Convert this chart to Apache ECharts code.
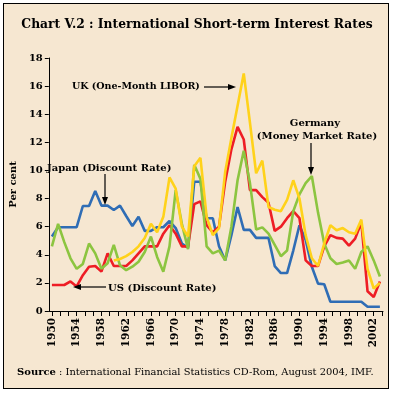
<!DOCTYPE html>
<html>
<head>
<meta charset="utf-8">
<script src="https://cdn.jsdelivr.net/npm/echarts@6/dist/echarts.min.js"></script>
<style>
html,body{margin:0;padding:0;background:#ffffff;}
#box{position:absolute;left:3px;top:3px;width:384px;height:384px;border:1.5px solid #000;background:#F6E7D1;}
#chart{position:absolute;left:0;top:0;width:394px;height:394px;}
</style>
</head>
<body>
<div id="box"></div>
<div id="chart"></div>
<script>
var years = [];
for (var y = 1950; y <= 2003; y++) years.push(y);

var japan = [5.3,5.96,5.96,5.96,5.96,7.47,7.47,8.54,7.5,7.5,
             7.19,7.5,6.76,6.05,6.7,5.7,5.7,5.96,5.96,6.4,
             5.9,4.8,4.5,9.2,9.2,6.6,6.6,4.6,3.6,5.4,
             7.4,5.77,5.77,5.2,5.2,5.2,3.2,2.7,2.7,4.3,
             6.1,5.05,3.15,1.95,1.9,0.66,0.66,0.66,0.66,0.66,
             0.66,0.3,0.3,0.3];
var us = [1.85,1.85,1.85,2.1,1.75,2.55,3.15,3.2,2.8,4.1,
          3.2,3.2,3.2,3.6,4.1,4.6,4.6,4.6,5.5,6.1,
          5.5,4.6,4.6,7.6,7.8,6.1,5.6,6.0,9.2,11.5,
          13.1,12.2,8.6,8.6,8.1,7.7,5.7,6.0,6.6,7.1,
          6.6,3.6,3.2,3.2,4.6,5.4,5.2,5.15,4.65,5.15,
          6.3,1.4,1.0,2.1];
var germany = [4.6,6.2,4.9,3.75,3.0,3.35,4.8,4.1,3.0,3.4,
               4.7,3.25,2.9,3.15,3.5,4.2,5.3,3.85,2.8,4.6,
               8.6,6.2,4.4,10.4,9.4,4.6,4.1,4.3,3.6,6.0,
               9.3,11.4,9.1,5.8,5.95,5.5,4.7,3.9,4.3,7.1,
               8.3,9.1,9.6,7.0,4.8,3.75,3.35,3.45,3.6,3.0,
               4.2,4.6,3.6,2.45];
var uk = [null,null,null,null,null,null,null,null,null,null,
          3.6,3.7,3.9,4.2,4.6,5.2,6.2,5.6,6.7,9.5,
          8.7,6.0,5.3,10.3,10.9,6.7,5.4,5.9,9.9,12.3,
          14.6,16.9,13.4,9.8,10.7,7.4,7.2,7.1,7.9,9.3,
          8.0,5.4,3.75,3.2,4.8,6.1,5.75,5.9,5.6,5.5,
          6.5,3.0,1.6,2.0];

var labelYears = [1950,1954,1958,1962,1966,1970,1974,1978,1982,1986,1990,1994,1998,2002];
var yTicks = [0,2,4,6,8,10,12,14,16,18];

function pairs(vals){
  var out = [];
  for (var i = 0; i < years.length; i++) {
    if (vals[i] !== null) out.push([years[i], vals[i]]);
  }
  return out;
}
var tickVals = [];
for (var k = 0; k <= 40; k++) tickVals.push(1950 + k * 4 / 3);

var F = 'DejaVu Serif';
var chart = echarts.init(document.getElementById('chart'));

function arrowLine(x1,y1,x2,y2){
  return {type:'line', shape:{x1:x1,y1:y1,x2:x2,y2:y2}, style:{stroke:'#000', lineWidth:1.2}, z:10};
}
function head(pts){
  return {type:'polygon', shape:{points:pts}, style:{fill:'#000'}, z:10};
}
function txt(x,y,t,align,size){
  return {type:'text', x:x, y:y, style:{text:t, fill:'#000', font:'bold '+(size||10)+'px "'+F+'"', align:align||'left', verticalAlign:'middle'}, z:10};
}

chart.setOption({
  backgroundColor: 'transparent',
  animation: false,
  title: {
    text: 'Chart V.2 : International Short-term Interest Rates',
    left: 'center', top: 14,
    textStyle: {fontFamily: F, fontWeight: 'bold', fontSize: 12.3, color: '#000'}
  },
  grid: {left: 40, right: 11, top: 58, bottom: 83},
  xAxis: {
    type: 'value', min: 1949.5, max: 2003.5,
    splitLine: {show: false},
    axisLine: {show: true, onZero: false, lineStyle: {color: '#000', width: 1}},
    axisTick: {show: true, length: 5, customValues: tickVals, lineStyle: {color: '#000'}},
    axisLabel: {customValues: labelYears, rotate: 90, margin: 7, color: '#000',
                fontFamily: F, fontWeight: 'bold', fontSize: 10.5,
                formatter: function(v){ return String(Math.round(v)); }}
  },
  yAxis: {
    type: 'value', min: 0, max: 18, interval: 2,
    name: 'Per cent', nameLocation: 'middle', nameGap: 26, nameRotate: 90,
    nameTextStyle: {fontFamily: F, fontWeight: 'bold', fontSize: 10, color: '#000'},
    splitLine: {show: false},
    axisLine: {show: true, lineStyle: {color: '#000', width: 1}},
    axisTick: {show: true, length: 4, lineStyle: {color: '#000'}},
    axisLabel: {margin: 6, color: '#000', fontFamily: F, fontWeight: 'bold', fontSize: 10,
                customValues: yTicks}
  },
  series: [
    {name: 'Japan', type: 'line', data: pairs(japan), symbol: 'none', lineStyle: {color: '#2F6DB5', width: 2.6}, z: 2},
    {name: 'US', type: 'line', data: pairs(us), symbol: 'none', lineStyle: {color: '#EE1D25', width: 2.6}, z: 3},
    {name: 'Germany', type: 'line', data: pairs(germany), symbol: 'none', lineStyle: {color: '#8CC540', width: 2.6}, z: 4},
    {name: 'UK', type: 'line', data: pairs(uk), symbol: 'none', lineStyle: {color: '#FFD21A', width: 2.6}, z: 5}
  ],
  graphic: [
    txt(72, 87, 'UK (One-Month LIBOR)', 'left', 9.5),
    arrowLine(204, 87, 230, 87), head([[236,87],[228,84],[228,90]]),
    txt(47, 168, 'Japan (Discount Rate)'),
    arrowLine(105, 174, 105, 199), head([[105,205],[102,197],[108,197]]),
    txt(108, 288, 'US (Discount Rate)'),
    arrowLine(106, 287, 79, 287), head([[73,287],[81,284],[81,290]]),
    txt(315, 123, 'Germany', 'center'),
    txt(317, 136, '(Money Market Rate)', 'center'),
    arrowLine(311, 143, 311, 169), head([[311,175],[308,167],[314,167]]),
    {type:'text', x: 17, y: 372, style:{
      text: '{b|Source} : International Financial Statistics CD-Rom, August 2004, IMF.',
      rich: {b: {font: 'bold 10px "'+F+'"', fill:'#000'}},
      font: '9.9px "'+F+'"', fill: '#000', verticalAlign: 'middle'}, z: 10}
  ]
});
</script>
</body>
</html>
